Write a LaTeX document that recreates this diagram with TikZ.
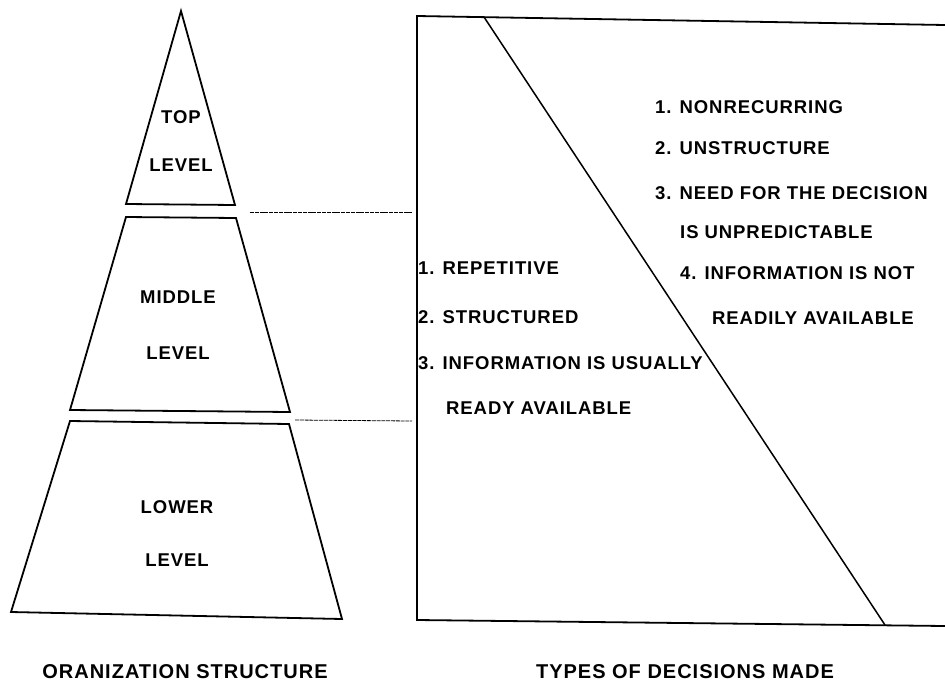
\documentclass[tikz,border=0pt]{standalone}
\usepackage{fontspec}
\newfontfamily\labelfont[LetterSpace=5,WordSpace=2.3]{Liberation Sans}
\newfontfamily\titlefont[LetterSpace=5]{Liberation Sans}
\begin{document}
\begin{tikzpicture}[x=1pt, y=-1pt]
        \tikzstyle{every node}=[inner sep=0pt, font=\labelfont\bfseries\fontsize{18.5}{20}\selectfont]
        \tikzstyle{item}=[anchor=west]
        \tikzstyle{title}=[font=\titlefont\bfseries\fontsize{20}{22}\selectfont]
        \tikzstyle{edge}=[line width=1.8pt, line join=miter]
        \tikzstyle{guide}=[line width=0.8pt, dash pattern=on 4pt off 0.8pt]
        \useasboundingbox (0,0) rectangle (945,686);

        \draw[edge] (181,11) -- (235,205) -- (126,204) -- cycle;
        \draw[edge] (126,217) -- (236,218) -- (290,412) -- (70,410) -- cycle;
        \draw[edge] (70,421) -- (289,424) -- (342,619) -- (11,612) -- cycle;

        \draw[edge] (945,25) -- (417,16) -- (417,620) -- (945,626);
        \draw[line width=1.5pt] (484,17) -- (885,625);

        \path (181,117) node (top1) {TOP};
        \path (181,165) node (top2) {LEVEL};
        \path (178,297) node (mid1) {MIDDLE};
        \path (178,353) node (mid2) {LEVEL};
        \path (177,507) node (low1) {LOWER};
        \path (177,560) node (low2) {LEVEL};

        \coordinate (midtop) at (250,212);
        \coordinate (boxa) at (412,212);
        \coordinate (lowtop) at (295,420);
        \coordinate (boxb) at (412,421);
        \draw[guide] (midtop) -- (boxa);
        \draw[guide] (lowtop) -- (boxb);

        \foreach \i/\x/\y/\t in {1/418/268/{1. REPETITIVE}, 2/418/317/{2. STRUCTURED},
          3/418/363/{3. INFORMATION IS USUALLY}, 4/446/408/{READY AVAILABLE}}
        {
          \path (\x,\y) node[item] (left\i) {\t};
        }

        \foreach \i/\x/\y/\t in {1/655/107/{1. NONRECURRING}, 2/655/148/{2. UNSTRUCTURE},
          3/655/193/{3. NEED FOR THE DECISION}, 4/680/232/{IS UNPREDICTABLE},
          5/680/273/{4. INFORMATION IS NOT}, 6/712/318/{READILY AVAILABLE}}
        {
          \path (\x,\y) node[item] (right\i) {\t};
        }

        \path (185,672) node[title] (orgtitle) {ORANIZATION STRUCTURE};
        \path (685,672) node[title] (dectitle) {TYPES OF DECISIONS MADE};
      \end{tikzpicture}
\end{document}
